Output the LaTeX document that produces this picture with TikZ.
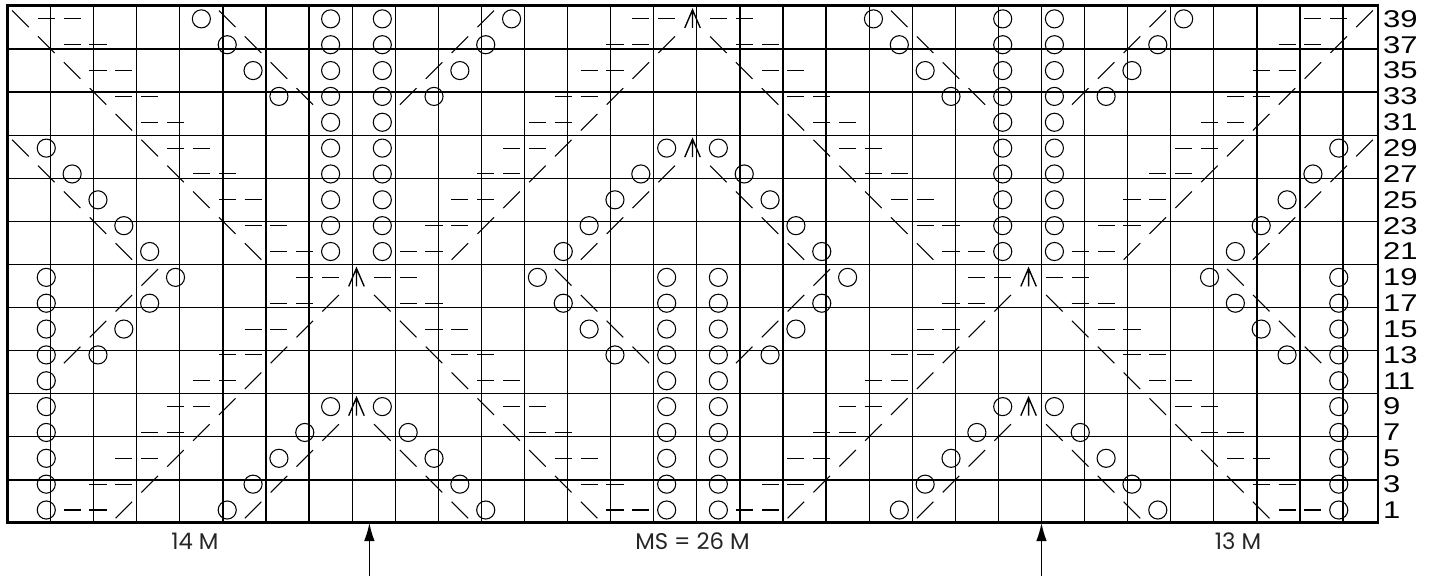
\documentclass[tikz,border=0pt]{standalone}
\usepackage{fontspec}
\setmainfont{Liberation Sans}
\newfontfamily\geofont{Poppins}
\usetikzlibrary{arrows.meta}

% one chart row: #1 = y of the row centre, #2 = column/stitch pairs
\newcommand\knitrow[2]{\foreach \cc/\sy in {#2}{\pic at (\cc+\off-0.5,#1) {\sy};}}

\begin{document}
\begin{tikzpicture}[x=0.6cm, y=0.6cm,
  gridline/.style={line width=0.85pt},
  frame/.style={line width=2pt, line cap=rect},
  sym/.style={line width=0.7pt},
  rowno/.style={anchor=west, inner sep=0pt, font=\fontsize{16}{16}\selectfont},
  cnt/.style={inner sep=0pt, text=black!85, font=\geofont\fontsize{15}{15}\selectfont},
  yo/.pic={\draw[sym] (0,0) circle (0.35);},
  ssk/.pic={\draw[sym] (-0.32,0.32) -- (0.32,-0.32);},
  ktog/.pic={\draw[sym] (-0.32,-0.32) -- (0.32,0.32);},
  purl/.pic={\draw[sym] (-0.33,0) -- (0.33,0);},
  cdd/.pic={\draw[sym, line width=0.9pt] (-0.3,-0.35) -- (0,0.35) -- (0.3,-0.35) (0,0.35) -- (0,-0.35);},
  >={Latex[length=12pt,width=7pt]}
]
  \useasboundingbox (-0.29,-2.05) rectangle (55.03,20.23);

  % grid and frame
  \draw[gridline] (0,0) grid (53,20);
  \draw[line width=1.3pt] (53,0) -- (53,20);
  \draw[frame] (53,0) -- (0,0) -- (0,20) -- (53,20);

  % row numbers
  \foreach \r in {1,...,20}{
    \pgfmathtruncatemacro\lbl{2*\r-1}
    \node[rowno] (row\lbl) at (53.2,\r-0.5) {\scalebox{1.28}[1]{\lbl}};
  }

  % stitches, columns 2-26 and the same 26 columns further right
  \foreach \off in {0,26}{
    \knitrow{19.5}{2/purl,3/purl,8/yo,9/ssk,13/yo,15/yo,19/ktog,20/yo,25/purl,26/purl}
    \knitrow{18.5}{2/ssk,3/purl,4/purl,9/yo,10/ssk,13/yo,15/yo,18/ktog,19/yo,24/purl,25/purl,26/ktog}
    \knitrow{17.5}{3/ssk,4/purl,5/purl,10/yo,11/ssk,13/yo,15/yo,17/ktog,18/yo,23/purl,24/purl,25/ktog}
    \knitrow{16.5}{4/ssk,5/purl,6/purl,11/yo,12/ssk,13/yo,15/yo,16/ktog,17/yo,22/purl,23/purl,24/ktog}
    \knitrow{15.5}{5/ssk,6/purl,7/purl,13/yo,15/yo,21/purl,22/purl,23/ktog}
    \knitrow{14.5}{2/yo,6/ssk,7/purl,8/purl,13/yo,15/yo,20/purl,21/purl,22/ktog,26/yo}
    \knitrow{13.5}{2/ssk,3/yo,7/ssk,8/purl,9/purl,13/yo,15/yo,19/purl,20/purl,21/ktog,25/yo,26/ktog}
    \knitrow{12.5}{3/ssk,4/yo,8/ssk,9/purl,10/purl,13/yo,15/yo,18/purl,19/purl,20/ktog,24/yo,25/ktog}
    \knitrow{11.5}{4/ssk,5/yo,9/ssk,10/purl,11/purl,13/yo,15/yo,17/purl,18/purl,19/ktog,23/yo,24/ktog}
    \knitrow{10.5}{5/ssk,6/yo,10/ssk,11/purl,12/purl,13/yo,15/yo,16/purl,17/purl,18/ktog,22/yo,23/ktog}
    \knitrow{9.5}{2/yo,6/ktog,7/yo,12/purl,13/purl,14/cdd,15/purl,16/purl,21/yo,22/ssk,26/yo}
    \knitrow{8.5}{2/yo,5/ktog,6/yo,11/purl,12/purl,13/ktog,15/ssk,16/purl,17/purl,22/yo,23/ssk,26/yo}
    \knitrow{7.5}{2/yo,4/ktog,5/yo,10/purl,11/purl,12/ktog,16/ssk,17/purl,18/purl,23/yo,24/ssk,26/yo}
    \knitrow{6.5}{2/yo,3/ktog,4/yo,9/purl,10/purl,11/ktog,17/ssk,18/purl,19/purl,24/yo,25/ssk,26/yo}
    \knitrow{5.5}{2/yo,8/purl,9/purl,10/ktog,18/ssk,19/purl,20/purl,26/yo}
    \knitrow{4.5}{2/yo,7/purl,8/purl,9/ktog,13/yo,14/cdd,15/yo,19/ssk,20/purl,21/purl,26/yo}
    \knitrow{3.5}{2/yo,6/purl,7/purl,8/ktog,12/yo,13/ktog,15/ssk,16/yo,20/ssk,21/purl,22/purl,26/yo}
    \knitrow{2.5}{2/yo,5/purl,6/purl,7/ktog,11/yo,12/ktog,16/ssk,17/yo,21/ssk,22/purl,23/purl,26/yo}
    \knitrow{1.5}{2/yo,4/purl,5/purl,6/ktog,10/yo,11/ktog,17/ssk,18/yo,22/ssk,23/purl,24/purl,26/yo}
    \knitrow{0.5}{2/yo,3/purl,4/purl,5/ktog,9/yo,10/ktog,18/ssk,19/yo,23/ssk,24/purl,25/purl,26/yo}
  }

  % edge stitches in rows 29 and 39
  \foreach \y in {14.5,19.5}{
    \pic at (0.5,\y) {ssk};
    \pic at (26.5,\y) {cdd};
    \pic at (52.5,\y) {ktog};
  }

  % stitch counts
  \node[cnt] (left)  at (7.25,-0.72) {14 M};
  \node[cnt] (rep)   at (26.5,-0.72) {MS = 26 M};
  \node[cnt] (right) at (47.6,-0.72) {13 M};

  % repeat markers
  \coordinate (s1) at (14,-2.05);
  \coordinate (e1) at (14,0);
  \coordinate (s2) at (40,-2.05);
  \coordinate (e2) at (40,0);
  \draw[->, line width=0.9pt] (s1) -- (e1);
  \draw[->, line width=0.9pt] (s2) -- (e2);
\end{tikzpicture}
\end{document}
